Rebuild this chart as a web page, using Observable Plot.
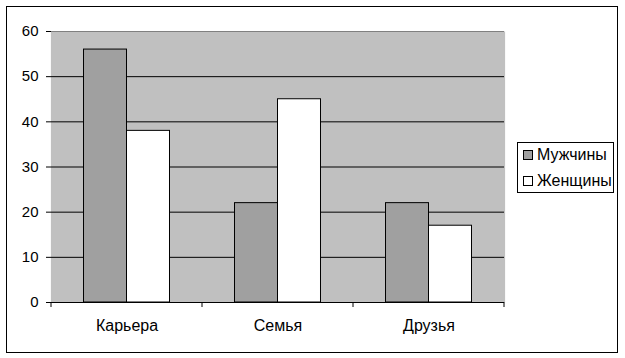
<!DOCTYPE html>
<html>
<head>
<meta charset="utf-8">
<script src="https://cdn.jsdelivr.net/npm/d3@7"></script>
<script src="https://cdn.jsdelivr.net/npm/@observablehq/plot@0.6"></script>
<style>
  html, body { margin: 0; padding: 0; background: #fff; }
  #wrap { position: relative; width: 625px; height: 358px; overflow: hidden; font-family: "Liberation Sans", Arial, sans-serif; }
  #border { position: absolute; left: 6px; top: 6px; width: 612px; height: 347px; box-sizing: border-box; border: 1px solid #000; }
  #chart { position: absolute; left: 0; top: 0; }
  #legend { position: absolute; left: 517px; top: 142px; width: 97px; height: 51px; box-sizing: border-box; border: 1px solid #000; background: #fff; font-size: 16px; color: #000; }
  .item { position: absolute; left: 5px; display: flex; align-items: center; white-space: nowrap; }
  .sw { width: 8px; height: 8px; border: 1px solid #000; margin-right: 4px; }
</style>
</head>
<body>
<div id="wrap">
  <div id="border"></div>
  <div id="chart"></div>
  <div id="legend"></div>
</div>
<script>
const categories = ["Карьера", "Семья", "Друзья"];
const seriesNames = ["Мужчины", "Женщины"];
const men = [56, 22, 22];
const women = [38, 45, 17];
const yTicks = [0, 10, 20, 30, 40, 50, 60];
const seriesColors = ["#a0a0a0", "#ffffff"];

const rows = categories.flatMap((c, i) => [
  {category: c, series: seriesNames[0], value: men[i]},
  {category: c, series: seriesNames[1], value: women[i]}
]);

const plot = Plot.plot({
  width: 625,
  height: 358,
  marginLeft: 51,
  marginRight: 121,
  marginTop: 31,
  marginBottom: 56,
  style: {fontFamily: "'Liberation Sans', Arial, sans-serif", fontSize: "15px", color: "#000", background: "transparent", overflow: "visible"},
  fx: {domain: categories, padding: 0, label: null, round: false},
  x: {domain: seriesNames, paddingInner: 0, paddingOuter: 0.756, axis: null, round: false},
  y: {domain: [0, 60], label: null},
  color: {domain: seriesNames, range: seriesColors},
  marks: [
    Plot.frame({fill: "#c0c0c0", insetLeft: -0.6, insetRight: -0.6}),
    Plot.gridY(yTicks, {stroke: "#000", strokeOpacity: 1}),
    Plot.ruleY([60], {stroke: "#808080"}),
    Plot.barY(rows, {fx: "category", x: "series", y: "value", fill: "series", stroke: "#000", strokeWidth: 1}),
    Plot.ruleY([0], {stroke: "#000"}),
    Plot.axisY(yTicks, {tickSize: 5, tickPadding: 8, line: true, stroke: "#000", label: null}),
    Plot.axisY([], {anchor: "right", line: true, stroke: "#808080", label: null}),
    Plot.axisFx({anchor: "bottom", tickSize: 0, tickPadding: 17, label: null, fontSize: 16})
  ]
});

// category boundary ticks on the x axis, placed with the fx scale
const fx = plot.scale("fx");
const y = plot.scale("y");
const y0 = y.apply(0);
const bounds = categories.map(c => fx.apply(c)).concat([fx.apply(categories[categories.length - 1]) + fx.bandwidth]);
d3.select(plot).append("g")
  .attr("stroke", "#000")
  .selectAll("line")
  .data(bounds)
  .join("line")
  .attr("x1", d => d).attr("x2", d => d)
  .attr("y1", y0).attr("y2", y0 + 5);

document.getElementById("chart").appendChild(plot);

// legend
const legend = d3.select("#legend");
seriesNames.forEach((name, i) => {
  const item = legend.append("div").attr("class", "item").style("top", (i === 0 ? 3 : 29) + "px");
  item.append("div").attr("class", "sw").style("background", seriesColors[i]);
  item.append("span").text(name);
});
</script>
</body>
</html>
